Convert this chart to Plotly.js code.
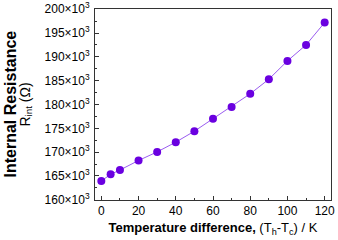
<!DOCTYPE html>
<html>
<head>
<meta charset="utf-8">
<script src="https://cdn.plot.ly/plotly-3.0.1.min.js"></script>
<style>html,body{margin:0;padding:0;background:#fff;}#chart{width:338px;height:240px;}</style>
</head>
<body>
<div id="chart"></div>
<script>
// Data
const tempDiff = [0, 5, 10, 20, 30, 40, 50, 60, 70, 80, 90, 100, 110, 120];
const resistance = [163950, 165350, 166250, 168250, 170050, 172100, 174400, 177000, 179500, 182250, 185300, 189150, 192500, 197200];
const yTickVals = [160000, 165000, 170000, 175000, 180000, 185000, 190000, 195000, 200000];
const yTickText = ["160×10<sup>3</sup>", "165×10<sup>3</sup>", "170×10<sup>3</sup>", "175×10<sup>3</sup>", "180×10<sup>3</sup>", "185×10<sup>3</sup>", "190×10<sup>3</sup>", "195×10<sup>3</sup>", "200×10<sup>3</sup>"];
const xTickVals = [0, 20, 40, 60, 80, 100, 120];

const FONT = "Liberation Sans, Arial, sans-serif";

const trace = {
  x: tempDiff,
  y: resistance,
  type: "scatter",
  mode: "lines+markers",
  line: {color: "#9a5cf0", width: 1},
  marker: {color: "#6a00e0", size: 8},
  hoverinfo: "none"
};

const layout = {
  width: 338,
  height: 240,
  margin: {l: 95, r: 7, t: 9, b: 40},
  paper_bgcolor: "#fff",
  plot_bgcolor: "#fff",
  showlegend: false,
  font: {family: FONT, color: "#000", size: 12},
  xaxis: {
    range: [-3.4, 123.4],
    tickvals: xTickVals,
    ticks: "inside",
    ticklen: 4,
    tickwidth: 1,
    tickcolor: "#333",
    minor: {dtick: 10, tick0: 0, ticks: "inside", ticklen: 2, tickcolor: "#333"},
    showline: true,
    linecolor: "#333",
    linewidth: 1,
    mirror: true,
    showgrid: false,
    zeroline: false,
    ticklabeloverflow: "allow",
    tickfont: {family: FONT, size: 12, color: "#000"},
    title: {
      text: "<b>Temperature difference,</b> (T<sub>h</sub>-T<sub>c</sub>) / K",
      font: {family: FONT, size: 13, color: "#000"},
      standoff: 5
    }
  },
  yaxis: {
    range: [159960, 200040],
    tickvals: yTickVals,
    ticktext: yTickText,
    ticks: "inside",
    ticklen: 4,
    tickwidth: 1,
    tickcolor: "#333",
    minor: {dtick: 2500, tick0: 160000, ticks: "inside", ticklen: 2, tickcolor: "#333"},
    showline: true,
    linecolor: "#333",
    linewidth: 1,
    mirror: true,
    showgrid: false,
    zeroline: false,
    ticklabelstandoff: 2,
    ticklabeloverflow: "allow",
    tickfont: {family: FONT, size: 12, color: "#000"}
  },
  annotations: [
    {
      text: "<b>Internal Resistance</b>",
      xref: "paper", yref: "paper",
      x: (10 - 95) / 236, y: 0.5,
      xanchor: "center", yanchor: "middle",
      textangle: -90, showarrow: false,
      font: {family: FONT, size: 16, color: "#000"}
    },
    {
      text: "R<sub>int</sub> (Ω)",
      xref: "paper", yref: "paper",
      x: (25 - 95) / 236, y: 0.5,
      xanchor: "center", yanchor: "middle",
      textangle: -90, showarrow: false,
      font: {family: FONT, size: 14, color: "#000"}
    }
  ]
};

Plotly.newPlot("chart", [trace], layout, {staticPlot: true, displayModeBar: false});
</script>
</body>
</html>
